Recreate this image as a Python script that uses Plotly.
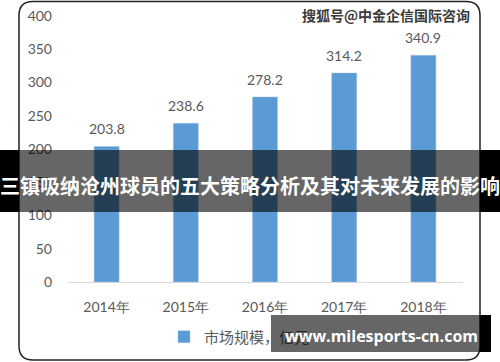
import plotly.graph_objects as go

years = ["2014年", "2015年", "2016年", "2017年", "2018年"]
values = [203.8, 238.6, 278.2, 314.2, 340.9]
value_labels = ["203.8", "238.6", "278.2", "314.2", "340.9"]
series_name = "市场规模，<span style='color:#262626'>亿元</span>"
banner_text = "三镇吸纳沧州球员的五大策略分析及其对未来发展的影响"
watermark_text = "搜狐号@中金企信国际咨询"
site_text = "www.milesports-cn.com"

W, H = 500, 362
ML, MR, MT, MB = 67, 37, 16, 80
PW, PH = W - ML - MR, H - MT - MB


def X(px):
    return (px - ML) / PW


def Y(py):
    return (H - MB - py) / PH


fig = go.Figure()
fig.add_trace(go.Bar(
    x=years, y=values, name=series_name,
    marker=dict(color="#5b9bd5", line=dict(color="#9dc3e6", width=0.5)),
    showlegend=True,
))

for xv, yv, lab in zip(years, values, value_labels):
    fig.add_annotation(x=xv, y=yv, text=lab, showarrow=False, yanchor="bottom",
                       yshift=7, font=dict(family="Lato", size=14, color="#595959"))

# frame (rounded rectangle)
l, r, t, b, rad = 19, 480, 1.5, 360, 14


def P(px, py):
    return f"{X(px)},{Y(py)}"


path = (f"M {P(l+rad, t)} L {P(r-rad, t)} Q {P(r, t)} {P(r, t+rad)} "
        f"L {P(r, b-rad)} Q {P(r, b)} {P(r-rad, b)} L {P(l+rad, b)} "
        f"Q {P(l, b)} {P(l, b-rad)} L {P(l, t+rad)} Q {P(l, t)} {P(l+rad, t)} Z")
shapes = [dict(type="path", xref="paper", yref="paper", path=path,
               line=dict(color="#222222", width=1.5), layer="above")]


def rect(x0, x1, y0, y1, color):
    return dict(type="rect", xref="paper", yref="paper", x0=X(x0), x1=X(x1),
                y0=Y(y1), y1=Y(y0), fillcolor=color, line=dict(width=0), layer="above")


# banner
shapes.append(rect(0, 19, 150, 212, "black"))
shapes.append(rect(480, 500, 150, 212, "black"))
shapes.append(rect(19, 480, 150, 212, "rgba(0,0,0,0.6)"))
# bottom site box
shapes.append(rect(271, 480, 315, 352, "rgba(0,0,0,0.6)"))
shapes.append(rect(480, 491, 315, 352, "black"))

fig.add_annotation(xref="paper", yref="paper", x=X(250), y=Y(185), text=banner_text,
                   showarrow=False, xanchor="center", yanchor="middle",
                   font=dict(family="Noto Sans CJK SC", size=20, color="white", weight="bold"))
fig.add_annotation(xref="paper", yref="paper", x=X(386), y=Y(15), text=watermark_text,
                   showarrow=False, xanchor="center", yanchor="middle",
                   font=dict(family="Noto Sans CJK SC", size=14, color="#3a3a3a", weight="bold"))
fig.add_annotation(xref="paper", yref="paper", x=X(381), y=Y(336), text=site_text,
                   showarrow=False, xanchor="center", yanchor="middle",
                   font=dict(family="Open Sans", size=16, color="white", weight="bold"))

fig.update_layout(
    width=W, height=H,
    margin=dict(l=ML, r=MR, t=MT, b=MB, autoexpand=False),
    paper_bgcolor="white", plot_bgcolor="white",
    bargap=0.684,
    shapes=shapes,
    showlegend=True,
    legend=dict(orientation="h", x=X(164), xanchor="left", y=Y(337), yanchor="middle",
                bgcolor="rgba(0,0,0,0)",
                font=dict(family="Noto Sans CJK SC", size=15, color="#595959"),
                itemwidth=30),
    xaxis=dict(showline=True, linecolor="#d9d9d9", linewidth=1, ticks="",
               tickfont=dict(family="Lato", size=14, color="#595959"),
               ticklabelstandoff=12, showgrid=False),
    yaxis=dict(range=[0, 400], dtick=50, showgrid=False, zeroline=False, showline=False,
               tickfont=dict(family="Lato", size=14, color="#595959"),
               ticklabelstandoff=14),
)

fig.write_html("out.html")
